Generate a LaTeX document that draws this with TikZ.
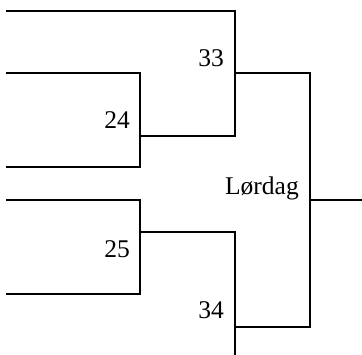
\documentclass[tikz,border=0pt]{standalone}
\usepackage{fontspec}
\setmainfont{Liberation Serif}
\begin{document}
\begin{tikzpicture}[x=1pt,y=-1pt,
  wire/.style={line width=2pt,line cap=rect,line join=miter},
  lbl/.style={anchor=base east,inner sep=0pt,font=\fontsize{25.5}{30}\selectfont}]
\useasboundingbox (0,0) rectangle (362,354);
% coordinates
\coordinate (t1) at (7,11);
\coordinate (t1e) at (235,11);
\coordinate (a1) at (7,73);
\coordinate (a1e) at (140,73);
\coordinate (a2) at (7,167);
\coordinate (a2e) at (140,167);
\coordinate (m24) at (140,136);
\coordinate (m24e) at (235,136);
\coordinate (m33) at (235,73);
\coordinate (m33e) at (310,73);
\coordinate (b1) at (7,200);
\coordinate (b1e) at (140,200);
\coordinate (b2) at (7,294);
\coordinate (b2e) at (140,294);
\coordinate (m25) at (140,232);
\coordinate (m25e) at (235,232);
\coordinate (bot) at (235,354);
\coordinate (m34) at (235,327);
\coordinate (m34e) at (310,327);
\coordinate (fin) at (310,200);
\coordinate (fine) at (362,200);
% wires
\draw[wire] (t1) -- (t1e) -- (m24e) -- (m24);
\draw[wire] (a1) -- (a1e) -- (a2e) -- (a2);
\draw[wire] (m33) -- (m33e) -- (m34e) -- (m34);
\draw[wire] (fin) -- (fine);
\draw[wire] (b1) -- (b1e) -- (b2e) -- (b2);
\draw[wire] (m25) -- (m25e) -- (bot);
% labels
\node[lbl] (l33) at (224,66) {33};
\node[lbl] (l24) at (130,128) {24};
\node[lbl] (lord) at (299,194) {Lørdag};
\node[lbl] (l25) at (130,257) {25};
\node[lbl] (l34) at (224,318.5) {34};
\end{tikzpicture}
\end{document}
